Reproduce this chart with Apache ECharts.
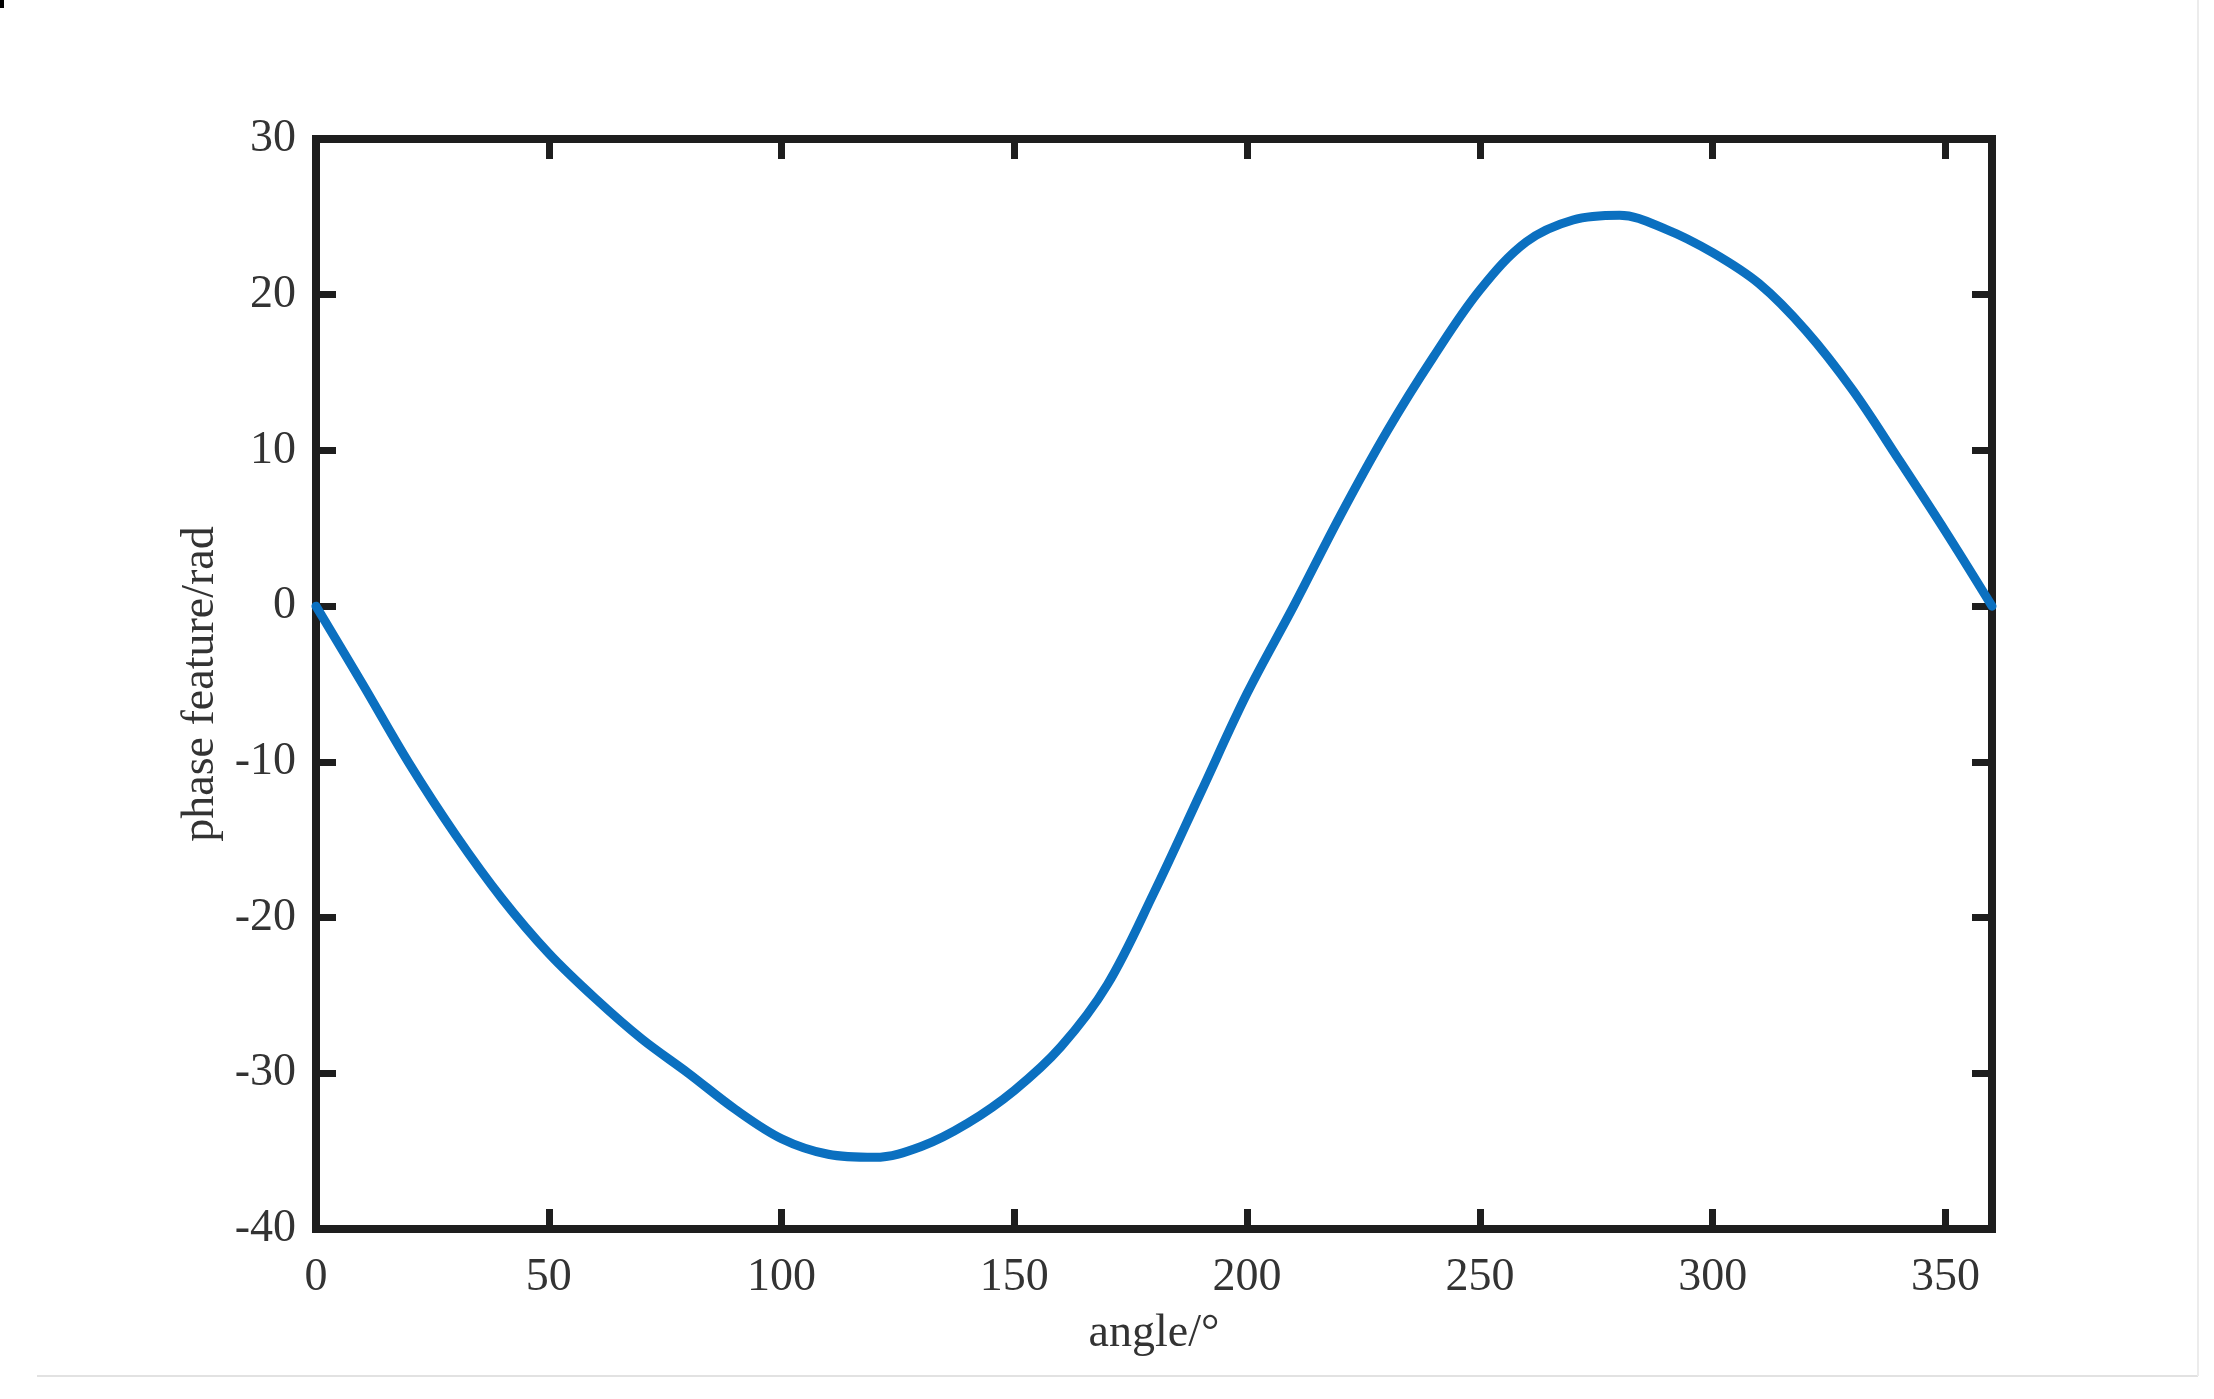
<!DOCTYPE html>
<html>
<head>
<meta charset="utf-8">
<script src="https://cdn.jsdelivr.net/npm/echarts@6/dist/echarts.min.js"></script>
<style>
html,body{margin:0;padding:0;background:#fff;}
#chart{width:2214px;height:1399px;}
</style>
</head>
<body>
<div id="chart"></div>
<script>
// Data (angle in degrees, phase feature in rad)
const angles = [0, 10, 20, 30, 40, 50, 60, 70, 80, 90, 100, 110, 120, 130, 140, 150, 160, 170, 180, 190, 200, 210, 220, 230, 240, 250, 260, 270, 280, 290, 300, 310, 320, 330, 340, 350, 360];
const phaseValues = [0, -5.0, -10.1, -14.7, -18.8, -22.3, -25.2, -27.8, -30.0, -32.3, -34.2, -35.2, -35.4, -34.7, -33.2, -31.1, -28.3, -24.3, -18.4, -12.0, -5.6, 0.0, 5.8, 11.2, 16.0, 20.3, 23.4, 24.8, 25.1, 24.2, 22.7, 20.7, 17.7, 13.9, 9.4, 4.8, 0];
const xTicks = [0, 50, 100, 150, 200, 250, 300, 350];
const yTicks = [-40, -30, -20, -10, 0, 10, 20, 30];
const xName = 'angle/°';
const yName = 'phase feature/rad';

const seriesData = angles.map((a, i) => [a, phaseValues[i]]);

const chart = echarts.init(document.getElementById('chart'), null, {renderer: 'canvas'});
const labelStyle = {fontFamily: 'Liberation Serif', fontSize: 46, color: '#333'};
const tickStyle = {show: true, inside: true, length: 20, lineStyle: {color: '#1e1e1e', width: 7}};
const noLine = {show: false, onZero: false};

chart.setOption({
  backgroundColor: '#ffffff',
  animation: false,
  grid: {left: 316, right: 222, top: 139, bottom: 170, show: true, borderColor: '#1e1e1e', borderWidth: 8, backgroundColor: 'transparent'},
  xAxis: [
    {
      type: 'value', min: 0, max: 360, interval: 50, position: 'bottom',
      name: xName, nameLocation: 'middle', nameGap: 82,
      nameTextStyle: {fontFamily: 'Liberation Serif', fontSize: 46, color: '#333'},
      axisLine: noLine, splitLine: {show: false},
      axisTick: tickStyle,
      axisLabel: Object.assign({margin: 26, formatter: v => xTicks.includes(v) ? String(v) : ''}, labelStyle)
    },
    {
      type: 'value', min: 0, max: 360, interval: 50, position: 'top',
      axisLine: noLine, splitLine: {show: false},
      axisTick: tickStyle, axisLabel: {show: false}
    }
  ],
  yAxis: [
    {
      type: 'value', min: -40, max: 30, interval: 10, position: 'left',
      name: yName, nameLocation: 'middle', nameGap: 80,
      nameTextStyle: {fontFamily: 'Liberation Serif', fontSize: 46, color: '#333'},
      axisLine: noLine, splitLine: {show: false},
      axisTick: tickStyle,
      axisLabel: Object.assign({margin: 20, formatter: v => yTicks.includes(v) ? String(v) : ''}, labelStyle)
    },
    {
      type: 'value', min: -40, max: 30, interval: 10, position: 'right',
      axisLine: noLine, splitLine: {show: false},
      axisTick: tickStyle, axisLabel: {show: false}
    }
  ],
  series: [{
    type: 'line',
    data: seriesData,
    smooth: 0.35,
    showSymbol: false,
    symbol: 'none',
    lineStyle: {color: '#0b70c0', width: 9, cap: 'round', join: 'round'},
    z: 1
  }],
  graphic: [
    {type: 'line', shape: {x1: 37, y1: 1376, x2: 2198, y2: 1376}, style: {stroke: '#e2e2e2', lineWidth: 2}, silent: true},
    {type: 'line', shape: {x1: 2198, y1: 0, x2: 2198, y2: 1376}, style: {stroke: '#ececec', lineWidth: 2}, silent: true},
    {type: 'rect', shape: {x: 0, y: 0, width: 4, height: 8}, style: {fill: '#000'}, silent: true}
  ]
});
</script>
</body>
</html>
